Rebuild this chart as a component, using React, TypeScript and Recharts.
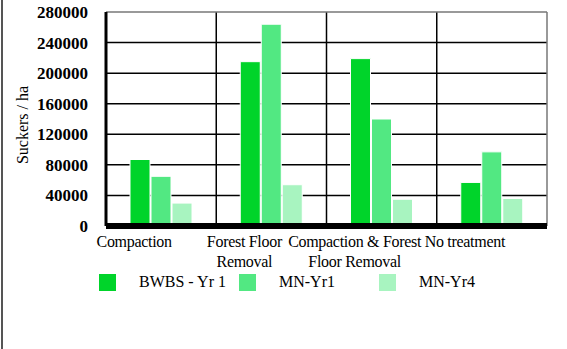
import React from 'react';
import { BarChart, Bar, XAxis, YAxis, CartesianGrid, Legend } from 'recharts';

const treatments = ['Compaction', 'Forest Floor\nRemoval', 'Compaction & Forest\nFloor Removal', 'No treatment'];
const bwbsYr1 = [87000, 215000, 219000, 57000];
const mnYr1 = [65000, 264000, 140000, 97000];
const mnYr4 = [30000, 54000, 35000, 36000];
const yTicks = [0, 40000, 80000, 120000, 160000, 200000, 240000, 280000];

const seriesNames = ['BWBS - Yr 1', 'MN-Yr1', 'MN-Yr4'];
const colors = ['#00d42a', '#52e882', '#a8f4c0'];

const data = treatments.map((name, i) => ({
    name,
    bwbs: bwbsYr1[i],
    mn1: mnYr1[i],
    mn4: mnYr4[i],
}));

const FONT = 'Liberation Serif, Times New Roman, DejaVu Serif, serif';

const CategoryTick = (props: any) => {
    const { x, y, payload } = props;
    const lines = String(payload.value).split('\n');
    return (
        <g transform={`translate(${x - 27},${y})`}>
            {lines.map((line, i) => (
                <text
                    key={i}
                    x={0}
                    y={i * 20}
                    dy={9}
                    textAnchor="middle"
                    style={{ fontFamily: FONT, fontSize: 16, letterSpacing: -0.3 }}
                    fill="#000"
                >
                    {line}
                </text>
            ))}
        </g>
    );
};

const LegendContent = () => (
    <div style={{ display: 'flex', fontFamily: FONT, fontSize: 16, color: '#000' }}>
        {seriesNames.map((s, i) => (
            <div key={s} style={{ display: 'flex', alignItems: 'center', width: 140 }}>
                <span style={{ display: 'inline-block', width: 17, height: 17, background: colors[i], marginRight: 23 }} />
                <span>{s}</span>
            </div>
        ))}
    </div>
);

const App: React.FC = () => {
    return (
        <div style={{ position: 'absolute', left: 0, top: 0, width: 567, height: 349, background: '#fff', fontFamily: FONT }}>
            <div style={{ position: 'absolute', left: 1, top: 0, width: 2, height: 349, background: '#555' }} />
            <BarChart
                width={567}
                height={349}
                data={data}
                margin={{ top: 12, right: 20, left: 0, bottom: 93 }}
                barSize={20}
                barGap={1}
                style={{ fontFamily: FONT }}
            >
                <CartesianGrid
                    stroke="#000"
                    strokeWidth={1.5}
                    horizontalCoordinatesGenerator={({ offset }: any) =>
                        yTicks.slice(1, -1).map(t => offset.top + offset.height * (1 - t / 280000))
                    }
                    verticalCoordinatesGenerator={({ offset }: any) =>
                        [1, 2, 3].map(i => offset.left + (offset.width * i) / 4)
                    }
                />
                <CartesianGrid
                    stroke="#777"
                    strokeWidth={1.5}
                    horizontalCoordinatesGenerator={({ offset }: any) => [offset.top]}
                    verticalCoordinatesGenerator={({ offset }: any) => [offset.left + offset.width]}
                />
                <XAxis
                    dataKey="name"
                    interval={0}
                    tickLine={false}
                    axisLine={{ stroke: '#000', strokeWidth: 6 }}
                    tick={<CategoryTick />}
                    tickMargin={6}
                />
                <YAxis
                    width={106}
                    domain={[0, 280000]}
                    ticks={yTicks}
                    interval={0}
                    tickLine={false}
                    axisLine={{ stroke: '#000', strokeWidth: 3 }}
                    tickMargin={12}
                    tick={{ style: { fontFamily: FONT, fontSize: 17, fontWeight: 'bold' }, fill: '#000' }}
                    label={{
                        value: 'Suckers / ha',
                        angle: -90,
                        position: 'insideLeft',
                        offset: 22,
                        dy: 6,
                        style: { textAnchor: 'middle', fontFamily: FONT, fontSize: 16, fill: '#000' },
                    }}
                />
                <Legend
                    verticalAlign="middle"
                    align="center"
                    layout="horizontal"
                    wrapperStyle={{ top: 273, left: 99, width: 440 }}
                    content={<LegendContent />}
                />
                <Bar dataKey="bwbs" name={seriesNames[0]} fill={colors[0]} stroke="#fff" strokeWidth={1} isAnimationActive={false} />
                <Bar dataKey="mn1" name={seriesNames[1]} fill={colors[1]} stroke="#fff" strokeWidth={1} isAnimationActive={false} />
                <Bar dataKey="mn4" name={seriesNames[2]} fill={colors[2]} stroke="#fff" strokeWidth={1} isAnimationActive={false} />
            </BarChart>
        </div>
    );
};

export default App;
